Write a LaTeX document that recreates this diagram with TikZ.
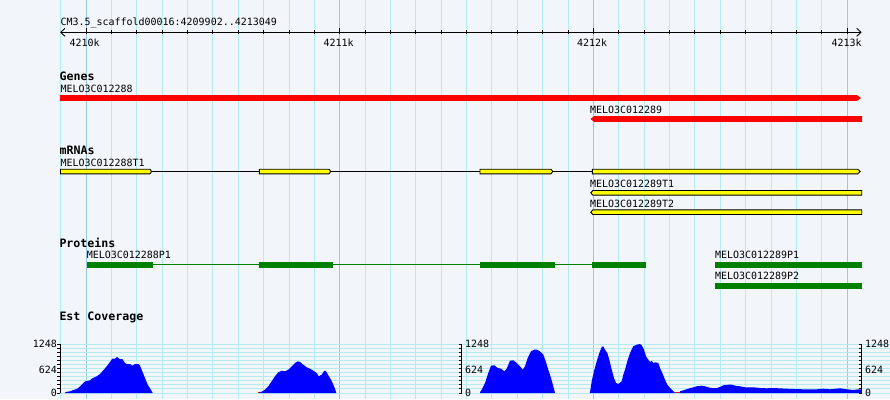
\documentclass[tikz,border=0pt]{standalone}
\usepackage{fontspec}
\newfontfamily\gbfont{DejaVu Sans Mono}
\definecolor{bg}{RGB}{242,245,250}
\definecolor{gridc}{RGB}{178,236,240}
\definecolor{gridm}{RGB}{150,202,228}
\definecolor{genered}{RGB}{255,0,0}
\definecolor{exony}{RGB}{255,255,0}
\definecolor{protg}{RGB}{0,128,0}
\definecolor{covb}{RGB}{0,0,255}
\tikzset{
  lbl/.style={anchor=base west, inner sep=0pt, font=\gbfont\fontsize{9.97pt}{10pt}\selectfont},
  hdr/.style={anchor=base west, inner sep=0pt, font=\gbfont\bfseries\fontsize{11.6pt}{12pt}\selectfont},
  vgrid/.style={draw=gridc, line width=0.9pt},
  vmajor/.style={draw=gridm, line width=0.9pt},
  hgrid/.style={draw=gridc, line width=0.9pt},
  axisline/.style={draw=black, line width=0.9pt},
  genebar/.style={fill=genered},
  exon/.style={fill=exony, draw=black, line width=0.9pt},
  intron/.style={draw=black, line width=0.9pt},
  protbox/.style={fill=protg},
  protline/.style={draw=protg, line width=0.9pt},
  cov/.style={fill=covb},
  covmark/.style={draw=genered, line width=1.2pt}
}
\begin{document}
\begin{tikzpicture}[x=1pt,y=-1pt]
\useasboundingbox (0,0) rectangle (890,399);
\fill[bg] (0,0) rectangle (890,399);
% vertical grid
\foreach \k in {0,...,31}{
  \pgfmathsetmacro\xx{60.63+25.37*\k}
  \draw[vgrid] (\xx,0) -- (\xx,399);
}
\foreach \k in {1,11,21,31}{
  \pgfmathsetmacro\xx{60.63+25.37*\k}
  \draw[vmajor] (\xx,0) -- (\xx,399);
}
% coverage horizontal grid
\foreach \i in {0,...,12}{
  \pgfmathsetmacro\yy{344+49*\i/12}
  \draw[hgrid] (60,\yy) -- (890,\yy);
}
% ruler
\node[lbl] (title) at (60.5,25.3) {CM3.5\_scaffold00016:4209902..4213049};
\coordinate (axL) at (60.7,32.3);
\coordinate (axR) at (861,32.3);
\draw[axisline] (axL) -- (axR);
\draw[axisline] (65,28.3) -- (axL) -- (65,36.3);
\draw[axisline] (856.7,28.3) -- (axR) -- (856.7,36.3);
\foreach \k in {1,...,31}{
  \pgfmathsetmacro\xx{60.63+25.37*\k}
  \draw[axisline] (\xx,30) -- (\xx,34.3);
}
\foreach \k in {1,11,21,31}{
  \pgfmathsetmacro\xx{60.63+25.37*\k}
  \draw[axisline] (\xx,27.5) -- (\xx,34.3);
}
\node[lbl] (k0) at (69.5,46) {4210k};
\node[lbl] (k1) at (323.5,46) {4211k};
\node[lbl] (k2) at (577,46) {4212k};
\node[lbl] (k3) at (831.5,46) {4213k};
% genes
\node[hdr] (genes) at (59.5,80) {Genes};
\node[lbl] (g1) at (60.5,92.3) {MELO3C012288};
\fill[genebar] (60,95.2) -- (857,95.2) -- (861,98) -- (857,100.8) -- (60,100.8) -- cycle;
\node[lbl] (g2) at (590,113) {MELO3C012289};
\fill[genebar] (590.5,119) -- (594,116.2) -- (862,116.2) -- (862,121.8) -- (594,121.8) -- cycle;
% mRNAs
\node[hdr] (mrnas) at (59.5,154) {mRNAs};
\node[lbl] (t1) at (60.5,166) {MELO3C012288T1};
\draw[intron] (151.5,171.5) -- (259.3,171.5);
\draw[intron] (331,171.5) -- (480,171.5);
\draw[intron] (553,171.5) -- (592.3,171.5);
\filldraw[exon] (60.5,169.2) -- (150,169.2) -- (151.6,171.5) -- (150,173.8) -- (60.5,173.8) -- cycle;
\filldraw[exon] (259.3,169.2) -- (329,169.2) -- (330.8,171.5) -- (329,173.8) -- (259.3,173.8) -- cycle;
\filldraw[exon] (480,169.2) -- (551,169.2) -- (552.8,171.5) -- (551,173.8) -- (480,173.8) -- cycle;
\filldraw[exon] (592.3,169.2) -- (857.7,169.2) -- (860.3,171.5) -- (857.7,173.8) -- (592.3,173.8) -- cycle;
\node[lbl] (t2) at (590,187) {MELO3C012289T1};
\filldraw[exon] (590.8,192.8) -- (592.8,190.5) -- (861.7,190.5) -- (861.7,195.1) -- (592.8,195.1) -- cycle;
\node[lbl] (t3) at (590,207) {MELO3C012289T2};
\filldraw[exon] (590.8,212.2) -- (592.8,209.9) -- (861.7,209.9) -- (861.7,214.5) -- (592.8,214.5) -- cycle;
% proteins
\node[hdr] (prot) at (59.3,247.3) {Proteins};
\node[lbl] (p1) at (86.7,258.7) {MELO3C012288P1};
\draw[protline] (153,264.8) -- (592,264.8);
\fill[protbox] (86.7,262) rectangle (153,268);
\fill[protbox] (259,262) rectangle (333,268);
\fill[protbox] (480,262) rectangle (555,268);
\fill[protbox] (592,262) rectangle (646,268);
\node[lbl] (p2) at (715,258.7) {MELO3C012289P1};
\fill[protbox] (715,262) rectangle (862,268);
\node[lbl] (p3) at (715,279.3) {MELO3C012289P2};
\fill[protbox] (715,282.8) rectangle (862,288.8);
% est coverage
\node[hdr] (est) at (59.3,320.7) {Est Coverage};
\fill[cov] (65,393) -- (66,392) -- (70,391.3) -- (73.3,390) -- (76.7,389) -- (79,387.3) -- (81.7,384.7) -- (85,381.3) -- (90,380.3) -- (91.7,378.7) -- (96.7,376.3) -- (100,374) -- (103.3,370.3) -- (106.7,366.3) -- (110,362) -- (112.3,358.7) -- (115,358.7) -- (117,357) -- (120,359.3) -- (122.3,359) -- (125,363) -- (126.7,364) -- (130,364) -- (132.3,365.7) -- (135,364) -- (138.3,364) -- (140,365.7) -- (142.3,371.3) -- (145,378) -- (147.7,384.7) -- (150.3,388.7) -- (152.7,393) -- cycle;
\fill[cov] (259,393) -- (259.3,392) -- (261.7,391.7) -- (265,389.7) -- (268.3,386.3) -- (271.7,381.3) -- (275,376.3) -- (278.3,372.3) -- (281.7,370.7) -- (285,371.3) -- (288.3,369.7) -- (291.7,366.3) -- (295,363) -- (297.7,361.3) -- (300,362) -- (303.3,364.7) -- (306.7,367.3) -- (310,368.7) -- (313.3,370.7) -- (316.7,373) -- (318.7,376.3) -- (321.7,374.7) -- (324.3,370.7) -- (326,371.3) -- (328.3,375.3) -- (331,379.7) -- (333.3,384.7) -- (335,388.7) -- (336.3,393) -- cycle;
\fill[cov] (480,393) -- (480,392.3) -- (481.7,389.7) -- (485,383) -- (488.3,373) -- (491,365.7) -- (494.3,365.3) -- (497.7,368) -- (501,368.7) -- (504.3,371.3) -- (506.7,368.7) -- (510,360.7) -- (513.3,360.3) -- (516.7,363) -- (520,366.3) -- (522.7,369.7) -- (525,366.3) -- (527.7,358) -- (531,351.3) -- (534.3,349.7) -- (536.7,349.7) -- (540,351.3) -- (543.3,354.7) -- (545.7,361.3) -- (548.3,369.7) -- (551,378) -- (553.3,386.3) -- (555,393) -- cycle;
\fill[cov] (589.5,393) -- (590,392.3) -- (591.7,381.3) -- (594,371.3) -- (596.7,361.3) -- (599.3,353) -- (601.7,347) -- (603.3,346.3) -- (605,349.7) -- (607.3,353) -- (609.3,359.7) -- (611.7,369.7) -- (614,378) -- (616,383) -- (618.3,384) -- (621.7,381.3) -- (623.3,374.7) -- (625,369.7) -- (627.3,361.3) -- (630,353) -- (633.3,346.3) -- (636.7,344.7) -- (640,344) -- (641.7,345.3) -- (644,349.7) -- (646,356.3) -- (648.3,359.7) -- (650,362) -- (651.7,360.7) -- (653.3,363) -- (655.7,362.3) -- (658.3,363) -- (660,368) -- (662.3,373) -- (665,379.7) -- (667.3,384.7) -- (670,388) -- (673.3,391.3) -- (675,393) -- cycle;
\fill[cov] (679.5,393) -- (680,391.3) -- (683.3,390.3) -- (688.3,388.7) -- (693.3,387.3) -- (696.7,386.3) -- (701.7,385.7) -- (705,386.3) -- (708.3,387.3) -- (711.7,388) -- (716.7,388) -- (720,387) -- (723.3,385.3) -- (728.3,384.7) -- (731.7,384.7) -- (735,385.7) -- (740,386.3) -- (746,387.5) -- (753.3,387.3) -- (760,388) -- (766.7,388.3) -- (773.3,388) -- (786.7,388.7) -- (803.3,389.3) -- (816.7,389.3) -- (823.3,388.7) -- (830,389.3) -- (840,388.3) -- (846.7,389.3) -- (853.3,390) -- (858.3,389.3) -- (861,389.3) -- (861,393) -- cycle;
\draw[covmark] (64.5,392.6) -- (66,392.6);
\draw[covmark] (257.5,392.4) -- (259.2,392.4);
\draw[covmark] (675,392.6) -- (679.6,392.6);
% coverage axes
\foreach \xa in {60.3,461.5,861.5}{
  \draw[axisline] (\xa,344) -- (\xa,393);
  \foreach \i in {0,...,12}{
    \pgfmathsetmacro\yy{344+49*\i/12}
    \draw[axisline] (\xa-3,\yy) -- (\xa,\yy);
  }
}
\node[lbl, anchor=base east] (l1) at (57,347.7) {1248};
\node[lbl, anchor=base east] (l2) at (57,373.3) {624};
\node[lbl, anchor=base east] (l3) at (57,396.5) {0};
\node[lbl] (m1) at (465,347.7) {1248};
\node[lbl] (m2) at (465,373.3) {624};
\node[lbl] (m3) at (465,396.5) {0};
\node[lbl] (r1) at (865,347.7) {1248};
\node[lbl] (r2) at (865,373.3) {624};
\node[lbl] (r3) at (865,396.5) {0};
\end{tikzpicture}
\end{document}
